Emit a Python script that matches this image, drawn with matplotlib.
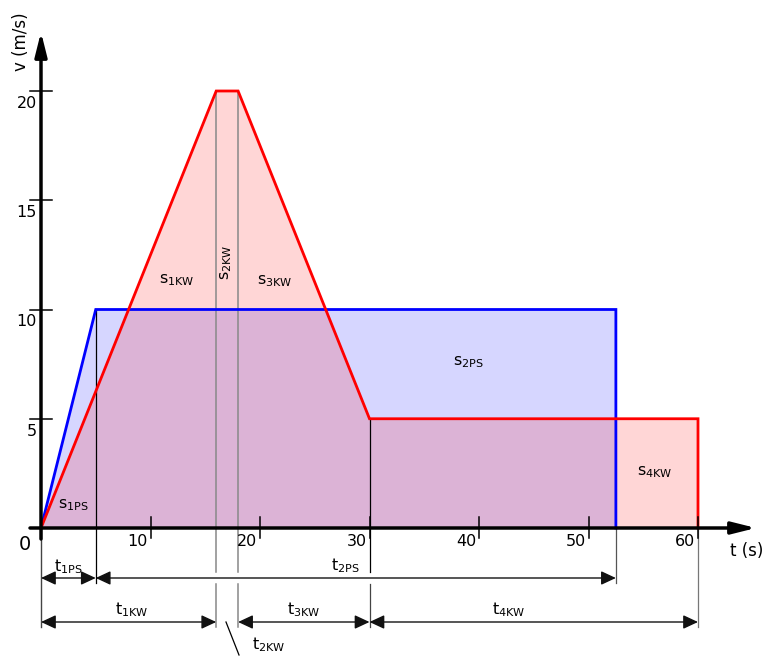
import matplotlib
matplotlib.use('Agg')
import matplotlib.pyplot as plt

plt.rcParams['mathtext.fontset'] = 'dejavusans'
plt.rcParams['font.family'] = 'DejaVu Sans'

# PS profile (blue) and KW profile (red): time in s, speed in m/s
ps_t = [0, 5, 52.5, 52.5]
ps_v = [0, 10, 10, 0]
kw_t = [0, 16, 18, 30, 60, 60]
kw_v = [0, 20, 20, 5, 5, 0]

x_ticks = [10, 20, 30, 40, 50, 60]
y_ticks = [5, 10, 15, 20]

# pixel scale of the drawing
PX_X = 10.95
PX_Y = 21.85
W, H = 766, 657
X0, Y0 = 41, 528

fig = plt.figure(figsize=(W / 100, H / 100), dpi=100)
ax = fig.add_axes([0, 0, 1, 1])
ax.set_xlim(-X0 / PX_X, (W - X0) / PX_X)
ax.set_ylim(-(H - Y0) / PX_Y, Y0 / PX_Y)
ax.axis('off')


def px(dx):
    return dx / PX_X


def py(dy):
    return dy / PX_Y


# fills
ax.fill(ps_t, ps_v, color='#0000ff', alpha=0.16, lw=0, zorder=1)
ax.fill(kw_t, kw_v, color='#ff0000', alpha=0.16, lw=0, zorder=1)

# vertical reference lines
y_gap_top = py(Y0 - 572)
y_gap_bot = py(Y0 - 584)
y_low = py(Y0 - 627)
y_mid = py(Y0 - 583)

ax.plot([ps_t[1]] * 2, [ps_v[1], y_mid], color='black', lw=0.9, zorder=2)
for t in (kw_t[1], kw_t[2]):
    ax.plot([t, t], [kw_v[1], y_gap_top], color='#888888', lw=1.1, zorder=2)
    ax.plot([t, t], [y_gap_bot, y_low], color='#888888', lw=1.1, zorder=2)
ax.plot([kw_t[3]] * 2, [kw_v[3], y_gap_top], color='black', lw=0.9, zorder=2)
ax.plot([kw_t[3]] * 2, [y_gap_bot, y_low], color='#444444', lw=0.9, zorder=2)
ax.plot([0, 0], [0, y_low], color='#444444', lw=1.0, zorder=2)
ax.plot([ps_t[-1]] * 2, [0, y_mid], color='#555555', lw=0.9, zorder=2)
ax.plot([kw_t[-1]] * 2, [0, y_low], color='#777777', lw=0.9, zorder=2)

# outlines
ax.plot(ps_t, ps_v, color='#0000ff', lw=2, zorder=3, solid_joinstyle='miter')
ax.plot(kw_t, kw_v, color='#ff0000', lw=2, zorder=3, solid_joinstyle='miter')

# axes with arrows
ax.annotate('', xy=(px(756 - X0), 0), xytext=(px(30 - X0), 0),
            arrowprops=dict(arrowstyle='-|>,head_length=0.72,head_width=0.18',
                            color='black', lw=2.5, shrinkA=0, shrinkB=0,
                            mutation_scale=20), zorder=5)
ax.annotate('', xy=(0, py(Y0 - 32)), xytext=(0, py(Y0 - 539)),
            arrowprops=dict(arrowstyle='-|>,head_length=0.72,head_width=0.18',
                            color='black', lw=2.5, shrinkA=0, shrinkB=0,
                            mutation_scale=20), zorder=5)

# ticks
for t in x_ticks:
    ax.plot([t, t], [py(11), py(-10)], color='black', lw=1.1, zorder=4)
    ax.text(t - px(3), py(-13), str(t), ha='right', va='center', fontsize=11.5)
for v in y_ticks:
    ax.plot([px(-11), px(11)], [v, v], color='black', lw=1.1, zorder=4)
    ax.text(px(-4), v - py(12.5), str(v), ha='right', va='center', fontsize=11.5)

ax.text(px(25 - X0), py(Y0 - 544), '0', ha='center', va='center', fontsize=14)
ax.text(px(21 - X0), py(Y0 - 42), 'v (m/s)', rotation=90, ha='center',
        va='center', fontsize=12)
ax.text(px(730 - X0), py(Y0 - 551), 't (s)', ha='left', va='center', fontsize=12)

# area labels
area_labels = [
    ('1PS', 73, 505, 0),
    ('1KW', 177, 280, 0),
    ('2KW', 226, 262, 90),
    ('3KW', 275, 281, 0),
    ('2PS', 468, 362, 0),
    ('4KW', 655, 472, 0),
]
for sub, x, y, rot in area_labels:
    ax.text(px(x - X0), py(Y0 - y), r'$\mathrm{s}_{\mathrm{%s}}$' % sub,
            ha='center', va='center', fontsize=11.5, rotation=rot)

# dimension lines
dim_style = dict(arrowstyle='<|-|>,head_length=0.6,head_width=0.28',
                 color='#111111', lw=1.0, shrinkA=0, shrinkB=0,
                 mutation_scale=15)
y_dim1 = py(Y0 - 578)
y_dim2 = py(Y0 - 622)
dims = [
    (0, ps_t[1], y_dim1, '1PS', 567),
    (ps_t[1], ps_t[2], y_dim1, '2PS', 566),
    (0, kw_t[1], y_dim2, '1KW', 610),
    (kw_t[2], kw_t[3], y_dim2, '3KW', 610),
    (kw_t[3], kw_t[4], y_dim2, '4KW', 610),
]
label_x = {'1PS': 68, '2PS': 345, '1KW': 132, '3KW': 304, '4KW': 509}
for a, b, y, sub, ty in dims:
    ax.annotate('', xy=(b, y), xytext=(a, y), arrowprops=dim_style, zorder=4)
    ax.text(px(label_x[sub] - X0), py(Y0 - ty), r'$\mathrm{t}_{\mathrm{%s}}$' % sub,
            ha='center', va='center', fontsize=11.5)

# t_2KW leader
ax.plot([px(226 - X0), px(239 - X0)], [py(Y0 - 622), py(Y0 - 655)],
        color='black', lw=0.9)
ax.text(px(269 - X0), py(Y0 - 645), r'$\mathrm{t}_{\mathrm{2KW}}$',
        ha='center', va='center', fontsize=11.5)

fig.savefig('out.png', dpi=100)
